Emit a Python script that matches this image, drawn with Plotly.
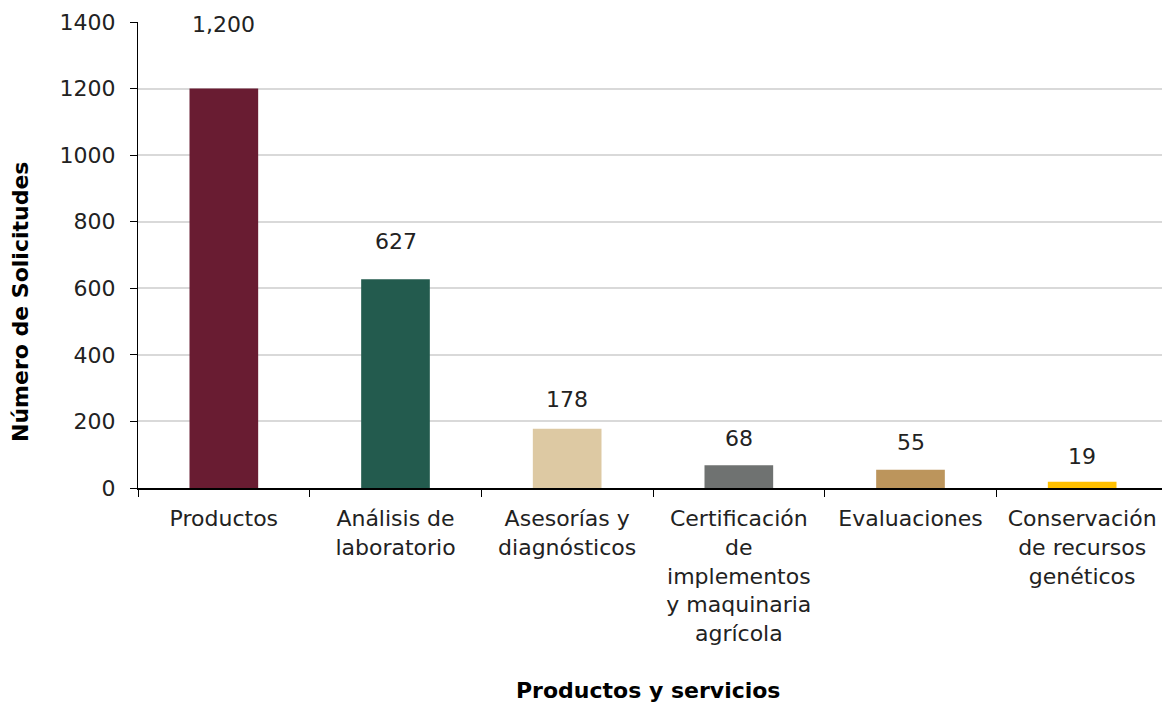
import plotly.graph_objects as go

categorias = ["Productos", "Análisis de<br>laboratorio", "Asesorías y<br>diagnósticos",
              "Certificación<br>de<br>implementos<br>y maquinaria<br>agrícola",
              "Evaluaciones", "Conservación<br>de recursos<br>genéticos"]
solicitudes = [1200, 627, 178, 68, 55, 19]
etiquetas = ["1,200", "627", "178", "68", "55", "19"]
colores = ["#691C32", "#235B4E", "#DDC9A3", "#6F7271", "#BC955C", "#FFC000"]

FONT = "DejaVu Sans"
SZ = 22

fig = go.Figure()
fig.add_trace(go.Bar(x=categorias, y=solicitudes, marker=dict(color=colores, line=dict(width=0)),
                     width=0.4, showlegend=False))

# value labels sit at varying distances above the bars
shifts = [64, 38, 29, 27, 27, 25]
for c, v, t, s in zip(categorias, solicitudes, etiquetas, shifts):
    fig.add_annotation(x=c, y=v, text=t, showarrow=False, yshift=s, yanchor="middle",
                       font=dict(family=FONT, size=SZ, color="#222"))

# axis titles
fig.add_annotation(xref="paper", yref="paper", x=0.495, y=-0.4335, text="<b>Productos y servicios</b>",
                   showarrow=False, yanchor="middle", xanchor="center",
                   font=dict(family=FONT, size=SZ, color="black"))
fig.add_annotation(xref="paper", yref="paper", x=-0.1146, y=0.399, text="<b>Número de Solicitudes</b>",
                   showarrow=False, textangle=-90, yanchor="middle", xanchor="center",
                   font=dict(family=FONT, size=SZ, color="black"))

# page body adds an 8px margin, so the figure is 8px smaller than the window
fig.update_layout(
    width=1162, height=695,
    margin=dict(l=130, r=2, t=14, b=215),
    plot_bgcolor="white", paper_bgcolor="white",
    font=dict(family=FONT, size=SZ, color="#222"),
    bargap=0.6,
)
fig.update_xaxes(showline=True, linecolor="black", linewidth=2, ticks="outside",
                 tickson="boundaries", ticklen=7, tickcolor="black", automargin=False,
                 tickfont=dict(size=SZ), tickangle=0, ticklabelstandoff=10)
fig.update_yaxes(range=[0, 1400], dtick=200, showline=True, linecolor="black", linewidth=1,
                 ticks="outside", ticklen=7, tickcolor="black", showgrid=True,
                 gridcolor="#d9d9d9", gridwidth=1.5, zeroline=False, automargin=False,
                 tickfont=dict(size=SZ), ticklabelstandoff=10)

fig.write_html("out.html")
